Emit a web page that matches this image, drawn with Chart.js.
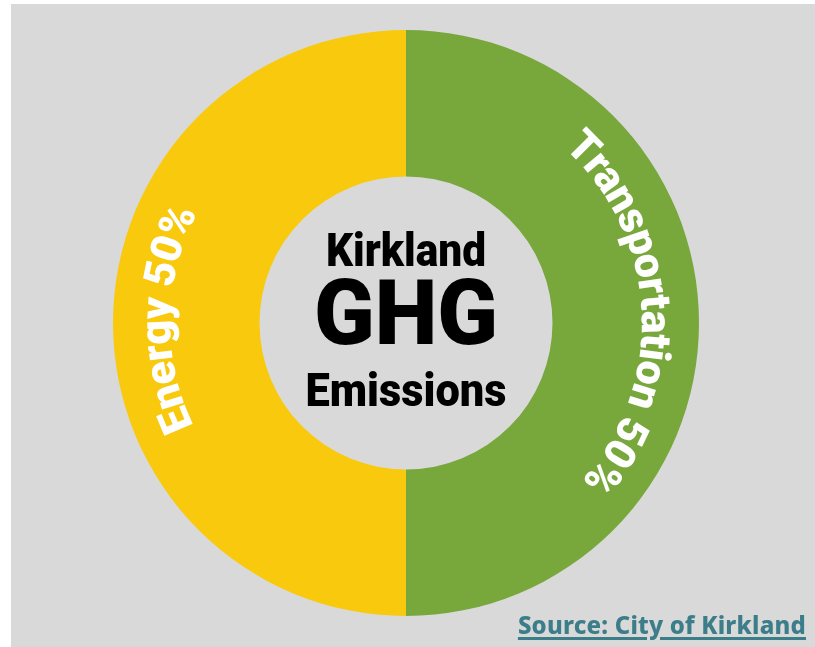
<!DOCTYPE html>
<html>
<head>
<meta charset="utf-8">
<script src="https://cdn.jsdelivr.net/npm/chart.js@4.4.1/dist/chart.umd.min.js"></script>
<style>
  html, body { margin: 0; padding: 0; background: #ffffff; }
  #wrap { position: relative; width: 815px; height: 647px; overflow: hidden; }
  #panel { position: absolute; left: 11px; top: 4px; right: 0; bottom: 0; background: #d9d9d9; }
  #chart { position: absolute; left: 0; top: 0; }
  #source {
    position: absolute; right: 9px; top: 608px;
    font: 800 24px "Noto Sans", sans-serif; color: #3b7d89;
    text-decoration: underline; text-decoration-thickness: 3px; text-underline-offset: 3px;
    letter-spacing: 0.2px; white-space: nowrap;
  }
</style>
</head>
<body>
<div id="wrap">
  <div id="panel"></div>
  <canvas id="chart" width="815" height="647"></canvas>
  <div id="source">Source: City of Kirkland</div>
</div>
<script>
// chart data
const categories = ['Transportation', 'Energy'];
const shares = [50, 50];
const centerLines = ['Kirkland', 'GHG', 'Emissions'];

/* Writes each slice label along its arc, letters standing outward. */
const labelShift = [-3, 1]; // degrees, nudges each label along its arc
const arcLabels = {
  id: 'arcLabels',
  afterDatasetsDraw(chart) {
    const ctx = chart.ctx;
    const meta = chart.getDatasetMeta(0);
    meta.data.forEach((arc, i) => {
      const text = categories[i] + ' ' + shares[i] + '%';
      const { x: cx, y: cy, startAngle, endAngle, innerRadius, outerRadius } = arc.getProps(
        ['x', 'y', 'startAngle', 'endAngle', 'innerRadius', 'outerRadius'], true);
      const r = innerRadius + (outerRadius - innerRadius) * 0.61;
      ctx.save();
      ctx.font = '900 43px Roboto, sans-serif';
      ctx.fillStyle = '#ffffff';
      ctx.textAlign = 'center';
      ctx.textBaseline = 'alphabetic';
      const squeeze = 0.97;
      const total = ctx.measureText(text).width * squeeze;
      const mid = (startAngle + endAngle) / 2 + labelShift[i] * Math.PI / 180;
      const a0 = mid - total / 2 / r;
      for (let k = 0; k < text.length; k++) {
        const before = ctx.measureText(text.slice(0, k)).width * squeeze;
        const after = ctx.measureText(text.slice(0, k + 1)).width * squeeze;
        const a = a0 + (before + after) / 2 / r;
        ctx.save();
        ctx.translate(cx + r * Math.cos(a), cy + r * Math.sin(a));
        ctx.rotate(a + Math.PI / 2);
        ctx.fillText(text[k], 0, 0);
        ctx.restore();
      }
      ctx.restore();
    });
  },
};

/* Title stacked in the hole of the doughnut. */
const centerTitle = {
  id: 'centerTitle',
  afterDatasetsDraw(chart) {
    const ctx = chart.ctx;
    const arc = chart.getDatasetMeta(0).data[0];
    const cx = arc.x, cy = arc.y;
    // [size, baseline offset, width]
    const specs = [[47, -57, 160], [90, 21, 184], [47, 83, 201]];
    ctx.save();
    ctx.fillStyle = '#000000';
    ctx.textBaseline = 'alphabetic';
    centerLines.forEach((line, i) => {
      const [size, dy, w] = specs[i];
      ctx.font = '900 ' + size + 'px Roboto, sans-serif';
      const mw = ctx.measureText(line).width;
      ctx.save();
      ctx.translate(cx, cy + dy);
      ctx.scale(w / mw, 1);
      ctx.textAlign = 'center';
      ctx.fillText(line, 0, 0);
      ctx.restore();
    });
    ctx.restore();
  },
};

new Chart(document.getElementById('chart'), {
  type: 'doughnut',
  data: {
    labels: categories,
    datasets: [{
      data: shares,
      backgroundColor: ['#78a83c', '#f8c90c'],
      borderWidth: 0,
    }],
  },
  options: {
    responsive: false,
    animation: false,
    cutout: '50%',
    layout: { padding: { left: 113, right: 116, top: 30, bottom: 31 } },
    plugins: {
      legend: { display: false },
      tooltip: { enabled: false },
    },
    events: [],
  },
  plugins: [arcLabels, centerTitle],
});
</script>
</body>
</html>
